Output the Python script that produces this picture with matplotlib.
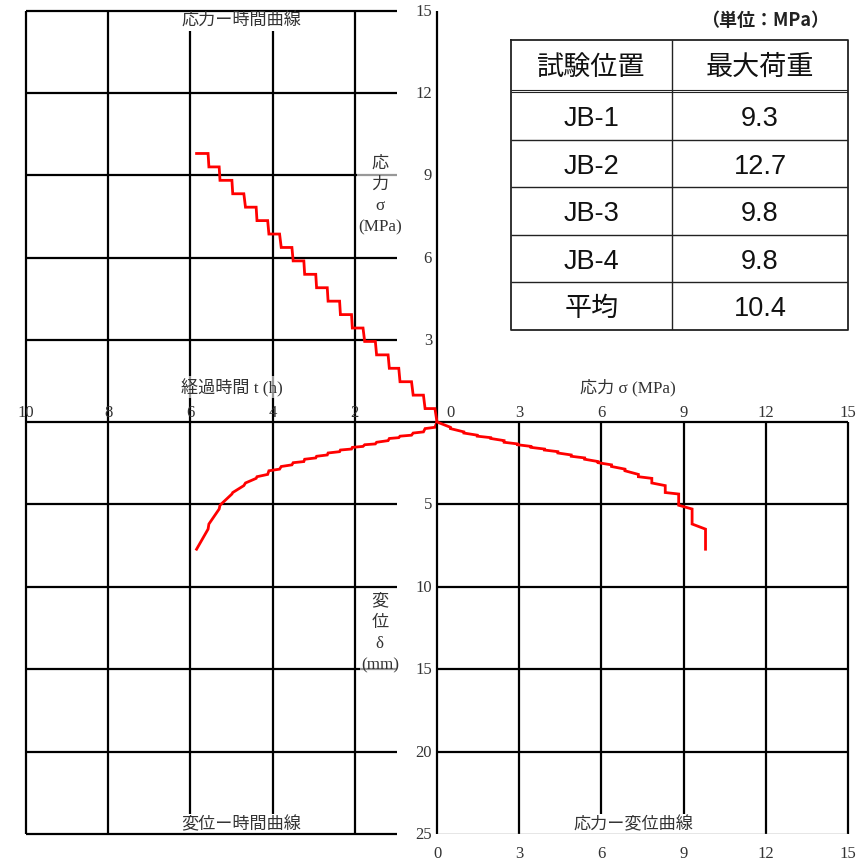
import matplotlib
matplotlib.use('Agg')
import matplotlib.pyplot as plt

# load steps (MPa) with the hold period of each step
step_stress = [0.49, 0.98, 1.47, 1.96, 2.45, 2.94, 3.43, 3.92, 4.41, 4.90,
               5.39, 5.88, 6.37, 6.86, 7.35, 7.84, 8.33, 8.82, 9.31, 9.80]
hold_start_h = [0.05, 0.33, 0.62, 0.93, 1.19, 1.50, 1.80, 2.08, 2.37, 2.67,
                2.95, 3.24, 3.53, 3.83, 4.12, 4.40, 4.70, 4.99, 5.30, 5.57]
hold_end_h = [0.29, 0.58, 0.90, 1.16, 1.47, 1.76, 2.06, 2.35, 2.65, 2.93,
              3.22, 3.50, 3.79, 4.09, 4.38, 4.66, 4.97, 5.28, 5.55, 5.85]
disp_start_mm = [0.32, 0.60, 0.80, 0.95, 1.13, 1.33, 1.48, 1.64, 1.80, 2.00,
                 2.18, 2.40, 2.60, 2.86, 3.18, 3.42, 3.86, 4.37, 5.28, 6.50]
disp_end_mm = [0.40, 0.67, 0.86, 1.00, 1.23, 1.38, 1.54, 1.70, 1.88, 2.08,
               2.26, 2.47, 2.70, 2.96, 3.32, 3.70, 4.28, 5.05, 6.19, 7.72]

test_names = ['JB-1', 'JB-2', 'JB-3', 'JB-4', '平均']
max_loads = ['9.3', '12.7', '9.8', '9.8', '10.4']

time_ticks = [10, 8, 6, 4, 2]
stress_ticks = [3, 6, 9, 12, 15]
stress_ticks_x = [0, 3, 6, 9, 12, 15]
disp_ticks = [5, 10, 15, 20, 25]

# one time series: start and end of every hold
t = [0.0]
s = [0.0]
d = [0.0]
for k in range(len(step_stress)):
    t += [hold_start_h[k], hold_end_h[k]]
    s += [step_stress[k], step_stress[k]]
    d += [disp_start_mm[k], disp_end_mm[k]]

W, H = 866, 862
fig = plt.figure(figsize=(W / 100, H / 100), dpi=100)


def box(x0, y0, x1, y1):
    return [x0 / W, 1 - y1 / H, (x1 - x0) / W, (y1 - y0) / H]


TXT = '#333333'
NUM = dict(family=['Liberation Serif'], fontsize=12, color=TXT)
JP = dict(family=['Liberation Serif', 'Noto Sans CJK JP'], fontsize=12.3, color=TXT)
G = dict(color='black', lw=1.6, capstyle='butt', clip_on=False)
RED = dict(color='red', lw=2.0, clip_on=False, solid_joinstyle='miter', zorder=5)
GRID_END = 0.98

ax_st = fig.add_axes(box(26, 12, 437, 423))
ax_st.set_xlim(10, 0)
ax_st.set_ylim(0, 15)
ax_dt = fig.add_axes(box(26, 423, 437, 835))
ax_dt.set_xlim(10, 0)
ax_dt.set_ylim(25, 0)
ax_sd = fig.add_axes(box(437, 423, 848, 835))
ax_sd.set_xlim(0, 15)
ax_sd.set_ylim(25, 0)
for ax in (ax_st, ax_dt, ax_sd):
    ax.axis('off')

# stress - time
ax_st.vlines([10, 8, 2, 0], 0, 15, **G)
ax_st.vlines([6, 4], 0, 14.27, **G)
ax_st.hlines(stress_ticks, 10, GRID_END, **G)
ax_st.hlines(0, 10, 0, **G)
ax_st.plot(t, s, **RED)
for v in stress_ticks:
    ax_st.text(0.12, v, str(v), ha='right', va='center', **NUM)
for v in time_ticks:
    ax_st.annotate(str(v), (v, 0), xytext=(0, 10), textcoords='offset pixels',
                   ha='center', va='center', **NUM)
ax_st.text(0.523, 0.976, '応力ー時間曲線', transform=ax_st.transAxes,
           ha='center', va='center', **JP)
ax_st.text(0.5, 0.085, '経過時間 t (h)', transform=ax_st.transAxes, ha='center',
           va='center', zorder=6,
           bbox=dict(fc='white', ec='none', alpha=0.6, pad=1), **JP)
ax_st.text(1.39, 8.3, '応\n力\nσ\n(MPa)', ha='center', va='center',
           linespacing=1.45, zorder=6,
           bbox=dict(fc='white', ec='none', alpha=0.6, pad=1), **JP)

# displacement - time
ax_dt.vlines([10, 8, 2], 0, 25, **G)
ax_dt.vlines([6, 4], 0, 23.8, **G)
ax_dt.hlines(disp_ticks, 10, GRID_END, **G)
ax_dt.plot(t, d, **RED)
for v in disp_ticks:
    ax_dt.text(0.12, v, str(v), ha='right', va='center', **NUM)
ax_dt.text(0.524, 0.023, '変位ー時間曲線', transform=ax_dt.transAxes,
           ha='center', va='center', **JP)
ax_dt.text(1.39, 10.35, '変\n位\nδ\n(mm)', ha='center', va='top',
           linespacing=1.45, zorder=6,
           bbox=dict(fc='white', ec='none', alpha=0.6, pad=1), **JP)

# stress - displacement
ax_sd.vlines([0, 3, 12, 15], 0, 25, **G)
ax_sd.vlines([6, 9], 0, 23.8, **G)
ax_sd.hlines([0, 5, 10, 15, 20], 0, 15, **G)
ax_sd.hlines(25, 0, 15, color='#808080', lw=1.0)
ax_sd.plot(s, d, **RED)
for v in stress_ticks_x:
    dx = 13 if v == 0 else 0
    ax_sd.annotate(str(v), (v, 0), xytext=(dx, 10), textcoords='offset pixels',
                   ha='center', va='center', **NUM)
    ax_sd.annotate(str(v), (v, 25), xytext=(0, -11), textcoords='offset pixels',
                   ha='center', va='top', **NUM)
ax_sd.text(0.465, 1.085, '応力 σ (MPa)', transform=ax_sd.transAxes,
           ha='center', va='center', **JP)
ax_sd.text(0.477, 0.023, '応力ー変位曲線', transform=ax_sd.transAxes,
           ha='center', va='center', **JP)

# result table
TB = dict(family=['Liberation Sans', 'Noto Sans CJK JP'], fontsize=19.5, color='#111111')
ax_tb = fig.add_axes(box(511, 41, 848, 331))
ax_tb.set_xlim(0, 337)
ax_tb.set_ylim(290, 0)
ax_tb.axis('off')
L = dict(color='#222222', lw=1.0)
ax_tb.plot([0, 337, 337, 0, 0], [0, 0, 290, 290, 0], clip_on=False, color='#222222', lw=1.3)
ax_tb.vlines(161, 0, 290, **L)
ax_tb.hlines([49.7, 52.3], 0, 337, color='#222222', lw=0.8)
row_h = (290 - 52.3) / len(test_names)
ax_tb.hlines([52.3 + row_h * i for i in range(1, len(test_names))], 0, 337, **L)
ax_tb.text(80.5, 27, '試験位置', ha='center', va='center', **TB)
ax_tb.text(249, 27, '最大荷重', ha='center', va='center', **TB)
for i, (name, val) in enumerate(zip(test_names, max_loads)):
    yc = 52.3 + row_h * (i + 0.5) + 2
    ax_tb.text(80.5, yc, name, ha='center', va='center', **TB)
    ax_tb.text(249, yc, val, ha='center', va='center', **TB)
fig.text(765 / W, 1 - 20 / H, '（単位：MPa）', ha='center', va='center',
         family=['Noto Sans CJK JP'], fontsize=13, weight='bold', color='#222222')

fig.savefig('out.png', dpi=100)
